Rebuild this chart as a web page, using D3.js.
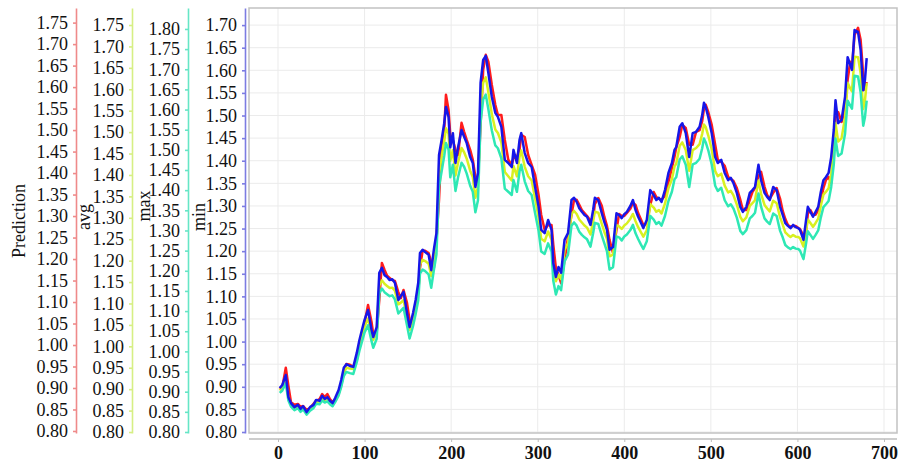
<!DOCTYPE html>
<html>
<head>
<meta charset="utf-8">
<script src="https://cdn.jsdelivr.net/npm/d3@7"></script>
<style>
  body { margin: 0; background: #fff; }
  svg { display: block; }
  text { font-family: "Liberation Serif", "Times New Roman", serif; }
</style>
</head>
<body>
<div id="chart"></div>
<script>
// x positions (days) shared by every series
const days = [
  2, 5, 9, 12, 15, 19, 23, 26, 29, 33,
  37, 41, 44, 48, 51, 54, 57, 60, 63, 66,
  70, 73, 76, 79, 83, 87, 91, 94, 97, 100,
  104, 108, 110, 114, 117, 120, 123, 126, 129, 132,
  135, 139, 142, 145, 149, 152, 156, 159, 162, 164,
  167, 170, 174, 177, 180, 183, 186, 189, 192, 194,
  197, 199, 202, 205, 208, 212, 215, 218, 222, 225,
  228, 231, 234, 237, 240, 243, 247, 251, 254, 258,
  262, 266, 270, 272, 276, 279, 281, 285, 289, 293,
  297, 301, 304, 308, 312, 316, 318, 321, 324, 327,
  331, 335, 339, 342, 345, 348, 351, 354, 357, 361,
  364, 366, 370, 374, 377, 380, 383, 387, 391, 394,
  397, 400, 403, 407, 410, 413, 416, 419, 422, 426,
  430, 434, 437, 440, 443, 447, 451, 455, 458, 460,
  464, 467, 471, 475, 479, 483, 487, 490, 492, 494,
  497, 501, 505, 508, 512, 516, 520, 523, 526, 530,
  534, 537, 541, 545, 548, 551, 555, 558, 562, 565,
  568, 572, 576, 580, 583, 586, 589, 592, 595, 598,
  601, 603, 607, 610, 612, 615, 618, 621, 624, 627,
  630, 633, 636, 639, 642, 644, 647, 651, 655, 658,
  661, 663, 666, 670, 673, 676, 678, 680
];

const prediction = [
  0.898, 0.902, 0.947, 0.905, 0.867, 0.861, 0.863, 0.856, 0.858, 0.849,
  0.853, 0.863, 0.870, 0.874, 0.886, 0.879, 0.886, 0.874, 0.867, 0.870,
  0.886, 0.907, 0.933, 0.956, 0.954, 0.949, 0.965, 0.995, 1.023, 1.051,
  1.093, 1.054, 1.026, 1.030, 1.105, 1.191, 1.175, 1.161, 1.156, 1.151,
  1.149, 1.123, 1.109, 1.128, 1.098, 1.058, 1.054, 1.091, 1.123, 1.179,
  1.219, 1.219, 1.214, 1.193, 1.179, 1.244, 1.338, 1.466, 1.500, 1.582,
  1.547, 1.489, 1.477, 1.454, 1.442, 1.517, 1.496, 1.477, 1.454, 1.431,
  1.391, 1.384, 1.512, 1.640, 1.675, 1.659, 1.605, 1.559, 1.535, 1.535,
  1.477, 1.431, 1.419, 1.435, 1.438, 1.454, 1.489, 1.484, 1.442, 1.419,
  1.396, 1.349, 1.303, 1.268, 1.279, 1.279, 1.233, 1.179, 1.163, 1.144,
  1.198, 1.251, 1.303, 1.338, 1.338, 1.326, 1.314, 1.307, 1.300, 1.289,
  1.296, 1.328, 1.342, 1.324, 1.298, 1.277, 1.244, 1.214, 1.268, 1.305,
  1.300, 1.300, 1.307, 1.317, 1.331, 1.326, 1.307, 1.293, 1.279, 1.282,
  1.326, 1.356, 1.344, 1.340, 1.338, 1.347, 1.379, 1.412, 1.438, 1.459,
  1.484, 1.512, 1.505, 1.466, 1.466, 1.496, 1.500, 1.521, 1.549, 1.559,
  1.542, 1.512, 1.466, 1.431, 1.426, 1.417, 1.391, 1.386, 1.382, 1.365,
  1.338, 1.314, 1.314, 1.338, 1.356, 1.365, 1.393, 1.403, 1.368, 1.349,
  1.340, 1.354, 1.365, 1.340, 1.312, 1.293, 1.279, 1.275, 1.277, 1.277,
  1.272, 1.270, 1.254, 1.263, 1.305, 1.314, 1.303, 1.303, 1.314, 1.338,
  1.365, 1.384, 1.391, 1.377, 1.454, 1.528, 1.542, 1.519, 1.547, 1.617,
  1.659, 1.645, 1.721, 1.738, 1.710, 1.628, 1.594, 1.612
];

const avg = [
  0.897, 0.904, 0.921, 0.880, 0.865, 0.857, 0.860, 0.853, 0.857, 0.846,
  0.855, 0.862, 0.870, 0.871, 0.879, 0.875, 0.877, 0.871, 0.866, 0.875,
  0.891, 0.912, 0.940, 0.950, 0.948, 0.947, 0.972, 1.000, 1.023, 1.046,
  1.065, 1.031, 1.015, 1.033, 1.142, 1.154, 1.146, 1.141, 1.136, 1.137,
  1.130, 1.098, 1.102, 1.108, 1.069, 1.038, 1.063, 1.092, 1.126, 1.191,
  1.202, 1.199, 1.193, 1.164, 1.200, 1.237, 1.402, 1.442, 1.478, 1.509,
  1.496, 1.433, 1.458, 1.399, 1.429, 1.463, 1.453, 1.438, 1.410, 1.395,
  1.347, 1.373, 1.561, 1.615, 1.628, 1.593, 1.542, 1.506, 1.498, 1.476,
  1.407, 1.397, 1.387, 1.421, 1.397, 1.443, 1.457, 1.419, 1.397, 1.387,
  1.345, 1.301, 1.251, 1.245, 1.268, 1.249, 1.181, 1.152, 1.167, 1.157,
  1.225, 1.241, 1.309, 1.316, 1.309, 1.296, 1.289, 1.282, 1.277, 1.261,
  1.291, 1.314, 1.312, 1.286, 1.267, 1.251, 1.210, 1.214, 1.283, 1.280,
  1.274, 1.282, 1.287, 1.298, 1.309, 1.292, 1.278, 1.267, 1.256, 1.271,
  1.332, 1.324, 1.314, 1.318, 1.310, 1.333, 1.369, 1.390, 1.420, 1.426,
  1.468, 1.476, 1.458, 1.410, 1.458, 1.463, 1.472, 1.496, 1.518, 1.512,
  1.492, 1.460, 1.409, 1.397, 1.403, 1.375, 1.359, 1.363, 1.353, 1.331,
  1.302, 1.292, 1.301, 1.328, 1.334, 1.341, 1.387, 1.356, 1.330, 1.322,
  1.315, 1.340, 1.334, 1.301, 1.284, 1.266, 1.260, 1.255, 1.260, 1.256,
  1.255, 1.252, 1.233, 1.269, 1.296, 1.288, 1.279, 1.288, 1.298, 1.328,
  1.354, 1.361, 1.369, 1.403, 1.458, 1.521, 1.478, 1.486, 1.534, 1.615,
  1.602, 1.595, 1.676, 1.675, 1.638, 1.554, 1.574, 1.615
];

const max = [
  0.897, 0.903, 0.921, 0.878, 0.863, 0.854, 0.859, 0.850, 0.856, 0.843,
  0.853, 0.859, 0.870, 0.869, 0.878, 0.873, 0.876, 0.869, 0.864, 0.874,
  0.890, 0.911, 0.939, 0.949, 0.946, 0.944, 0.973, 1.001, 1.024, 1.047,
  1.065, 1.026, 1.009, 1.031, 1.144, 1.156, 1.147, 1.142, 1.137, 1.139,
  1.129, 1.094, 1.101, 1.108, 1.065, 1.032, 1.063, 1.093, 1.127, 1.193,
  1.203, 1.199, 1.191, 1.158, 1.201, 1.240, 1.409, 1.446, 1.485, 1.517,
  1.501, 1.432, 1.463, 1.398, 1.432, 1.468, 1.458, 1.441, 1.411, 1.396,
  1.345, 1.375, 1.569, 1.625, 1.637, 1.601, 1.548, 1.511, 1.504, 1.479,
  1.404, 1.396, 1.388, 1.425, 1.396, 1.447, 1.463, 1.422, 1.398, 1.388,
  1.343, 1.299, 1.248, 1.242, 1.268, 1.248, 1.175, 1.141, 1.162, 1.152,
  1.223, 1.240, 1.312, 1.320, 1.312, 1.297, 1.289, 1.283, 1.278, 1.260,
  1.293, 1.319, 1.316, 1.288, 1.268, 1.248, 1.203, 1.209, 1.285, 1.283,
  1.275, 1.285, 1.290, 1.301, 1.314, 1.293, 1.279, 1.266, 1.254, 1.273,
  1.336, 1.327, 1.316, 1.321, 1.312, 1.336, 1.373, 1.396, 1.427, 1.432,
  1.476, 1.484, 1.463, 1.408, 1.464, 1.468, 1.478, 1.504, 1.528, 1.519,
  1.499, 1.464, 1.411, 1.398, 1.406, 1.375, 1.360, 1.365, 1.355, 1.332,
  1.299, 1.291, 1.301, 1.330, 1.336, 1.344, 1.392, 1.359, 1.330, 1.322,
  1.316, 1.342, 1.336, 1.299, 1.283, 1.264, 1.258, 1.254, 1.259, 1.255,
  1.254, 1.250, 1.229, 1.268, 1.298, 1.289, 1.279, 1.289, 1.300, 1.332,
  1.358, 1.365, 1.373, 1.408, 1.464, 1.528, 1.485, 1.491, 1.540, 1.622,
  1.610, 1.602, 1.684, 1.682, 1.643, 1.560, 1.581, 1.622
];

const min = [
  0.897, 0.904, 0.926, 0.877, 0.864, 0.855, 0.860, 0.851, 0.857, 0.844,
  0.855, 0.860, 0.871, 0.869, 0.880, 0.873, 0.877, 0.869, 0.864, 0.875,
  0.893, 0.915, 0.942, 0.950, 0.946, 0.944, 0.975, 1.003, 1.026, 1.048,
  1.070, 1.026, 1.010, 1.032, 1.152, 1.163, 1.147, 1.143, 1.136, 1.138,
  1.130, 1.092, 1.101, 1.110, 1.063, 1.032, 1.063, 1.092, 1.130, 1.196,
  1.203, 1.198, 1.192, 1.158, 1.203, 1.240, 1.413, 1.446, 1.483, 1.519,
  1.497, 1.430, 1.461, 1.395, 1.430, 1.468, 1.453, 1.439, 1.408, 1.395,
  1.342, 1.373, 1.572, 1.623, 1.632, 1.594, 1.541, 1.506, 1.497, 1.475,
  1.402, 1.395, 1.386, 1.424, 1.395, 1.446, 1.461, 1.417, 1.395, 1.386,
  1.342, 1.298, 1.247, 1.240, 1.269, 1.247, 1.174, 1.143, 1.165, 1.152,
  1.225, 1.240, 1.313, 1.318, 1.309, 1.295, 1.287, 1.280, 1.276, 1.258,
  1.291, 1.318, 1.313, 1.284, 1.264, 1.247, 1.203, 1.209, 1.284, 1.280,
  1.273, 1.282, 1.287, 1.300, 1.313, 1.291, 1.276, 1.264, 1.251, 1.269,
  1.335, 1.324, 1.313, 1.318, 1.309, 1.335, 1.373, 1.395, 1.424, 1.430,
  1.475, 1.483, 1.461, 1.408, 1.461, 1.464, 1.475, 1.501, 1.528, 1.519,
  1.497, 1.461, 1.408, 1.395, 1.402, 1.373, 1.357, 1.362, 1.351, 1.329,
  1.298, 1.287, 1.298, 1.329, 1.335, 1.342, 1.391, 1.357, 1.329, 1.320,
  1.313, 1.342, 1.335, 1.298, 1.280, 1.262, 1.256, 1.251, 1.258, 1.253,
  1.251, 1.247, 1.225, 1.269, 1.298, 1.287, 1.276, 1.287, 1.298, 1.331,
  1.357, 1.364, 1.373, 1.408, 1.468, 1.534, 1.483, 1.490, 1.541, 1.629,
  1.612, 1.601, 1.689, 1.685, 1.645, 1.556, 1.579, 1.627
];

// tick labels
const xTicks = [0, 100, 200, 300, 400, 500, 600, 700];
const predTicks = [0.80, 0.85, 0.90, 0.95, 1.00, 1.05, 1.10, 1.15, 1.20, 1.25, 1.30, 1.35, 1.40, 1.45, 1.50, 1.55, 1.60, 1.65, 1.70, 1.75];
const avgTicks = [0.80, 0.85, 0.90, 0.95, 1.00, 1.05, 1.10, 1.15, 1.20, 1.25, 1.30, 1.35, 1.40, 1.45, 1.50, 1.55, 1.60, 1.65, 1.70, 1.75];
const maxTicks = [0.80, 0.85, 0.90, 0.95, 1.00, 1.05, 1.10, 1.15, 1.20, 1.25, 1.30, 1.35, 1.40, 1.45, 1.50, 1.55, 1.60, 1.65, 1.70, 1.75, 1.80];
const minTicks = [0.80, 0.85, 0.90, 0.95, 1.00, 1.05, 1.10, 1.15, 1.20, 1.25, 1.30, 1.35, 1.40, 1.45, 1.50, 1.55, 1.60, 1.65, 1.70];

const width = 898, height = 466;
const plot = { left: 249, right: 897, top: 8, bottom: 433 };

const svg = d3.select("#chart")
    .append("svg")
    .attr("width", width)
    .attr("height", height);

svg.append("rect").attr("width", width).attr("height", height).attr("fill", "#fff");

const x = d3.scaleLinear().domain([0, 700]).range([278, 884]);

// one axis per series, stacked left of the plot
const series = [
    { name: "Prediction", values: prediction, ticks: predTicks, domain: [0.7953, 1.784], axisX: 76,  axisColor: "#ef8a8a", lineColor: "#ff1c1c", titleX: 25,  titleY: 221 },
    { name: "avg",        values: avg,        ticks: avgTicks,  domain: [0.7977, 1.7897], axisX: 132, axisColor: "#d6ef84", lineColor: "#d8f020", titleX: 90,  titleY: 217 },
    { name: "max",        values: max,        ticks: maxTicks,  domain: [0.7975, 1.852], axisX: 188, axisColor: "#66e6c6", lineColor: "#2ee8b4", titleX: 150, titleY: 206 },
    { name: "min",        values: min,        ticks: minTicks,  domain: [0.7978, 1.7378], axisX: 245, axisColor: "#7c7ce2", lineColor: "#1616e8", titleX: 205, titleY: 217 }
];
series.forEach(s => {
    s.y = d3.scaleLinear().domain(s.domain).range([plot.bottom, plot.top]);
});
const yMin = series[3].y;

// plot background + grid
svg.append("rect")
    .attr("x", plot.left).attr("y", plot.top)
    .attr("width", plot.right - plot.left).attr("height", plot.bottom - plot.top)
    .attr("fill", "#fff");

const grid = svg.append("g").attr("stroke", "#ebebeb").attr("stroke-width", 1);
grid.selectAll(".gy")
    .data(minTicks)
    .enter().append("line")
    .attr("x1", plot.left).attr("x2", plot.right)
    .attr("y1", d => yMin(d)).attr("y2", d => yMin(d));
grid.selectAll(".gx")
    .data(xTicks)
    .enter().append("line")
    .attr("x1", d => x(d)).attr("x2", d => x(d))
    .attr("y1", plot.top).attr("y2", plot.bottom);

// lines
series.forEach(s => {
    const line = d3.line()
        .x((d, i) => x(days[i]))
        .y(d => s.y(d));
    svg.append("path")
        .datum(s.values)
        .attr("fill", "none")
        .attr("stroke", s.lineColor)
        .attr("stroke-width", 2.5)
        .attr("stroke-linejoin", "round")
        .attr("d", line);
});

// frame
svg.append("rect")
    .attr("x", plot.left).attr("y", plot.top)
    .attr("width", plot.right - plot.left).attr("height", plot.bottom - plot.top)
    .attr("fill", "none")
    .attr("stroke", "#c2c2c2")
    .attr("stroke-width", 1.5);

// y axes
series.forEach(s => {
    const g = svg.append("g")
        .attr("transform", `translate(${s.axisX},0)`)
        .call(d3.axisLeft(s.y)
            .tickValues(s.ticks)
            .tickFormat(d3.format(".2f"))
            .tickSize(3)
            .tickSizeOuter(0)
            .tickPadding(5));
    g.select(".domain").attr("stroke", s.axisColor).attr("stroke-width", 1.6);
    g.selectAll(".tick line").attr("stroke", s.axisColor).attr("stroke-width", 1.6);
    g.selectAll(".tick text")
        .attr("fill", "#111")
        .style("font-size", "18px")
        .style("font-family", "'Liberation Serif', serif");

    svg.append("text")
        .attr("transform", `translate(${s.titleX},${s.titleY}) rotate(-90)`)
        .attr("text-anchor", "middle")
        .attr("fill", "#111")
        .style("font-size", "18px")
        .text(s.name);
});

// x axis (separate from the frame)
svg.append("line")
    .attr("x1", plot.left).attr("x2", plot.right)
    .attr("y1", 439).attr("y2", 439)
    .attr("stroke", "#bdbdbd").attr("stroke-width", 1.5);

const gx = svg.append("g")
    .attr("transform", "translate(0,439)")
    .call(d3.axisBottom(x).tickValues(xTicks).tickFormat(d3.format("d")).tickSize(3).tickPadding(4));
gx.select(".domain").remove();
gx.selectAll(".tick line").attr("stroke", "#bdbdbd");
gx.selectAll(".tick text")
    .attr("fill", "#111")
    .style("font-size", "18px")
    .style("font-weight", "bold")
    .style("font-family", "'Liberation Serif', serif");
</script>
</body>
</html>
